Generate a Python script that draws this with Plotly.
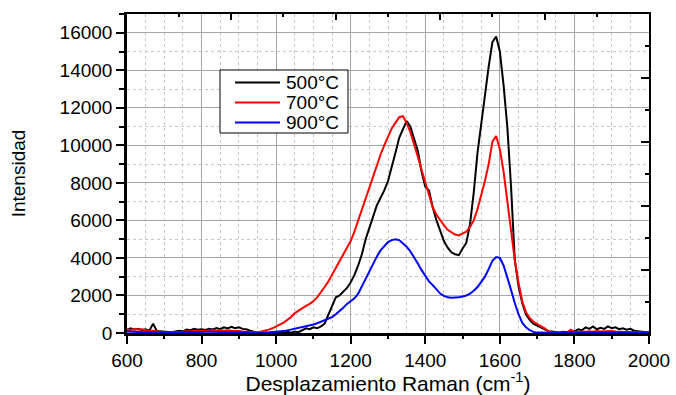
import plotly.graph_objects as go

# Raman shift grid (cm-1), step 10 from 600 to 2000
wavenumber = list(range(600, 2001, 10))

int_500 = [150, 250, 180, 220, 150, 200, 120, 500, 100, 80,
           50, 60, 40, 80, 120, 90, 180, 150, 220, 170,
           200, 160, 230, 190, 260, 200, 300, 240, 330, 260,
           300, 220, 200, 120, 60, 20, 0, 20, 0, 30,
           0, 40, 0, 60, 20, 80, 40, 150, 250, 200,
           300, 250, 350, 500, 1000, 1500, 1900, 2000, 2200, 2400,
           2700, 3100, 3600, 4200, 5000, 5600, 6200, 6800, 7200, 7600,
           8100, 8800, 9600, 10400, 10900, 11300, 11000, 10300, 9700, 8600,
           7800, 7600, 6700, 6000, 5500, 4900, 4550, 4300, 4200, 4150,
           4500, 4800, 5800, 7500, 9600, 11200, 12800, 14200, 15500, 15800,
           15000, 13200, 11000, 7800, 3900, 2500, 1600, 1000, 700, 500,
           400, 300, 200, 100, 80, 50, 20, 60, 40, 100,
           80, 200, 150, 300, 220, 350, 200, 280, 220, 350,
           250, 300, 200, 250, 180, 220, 120, 100, 60, 40,
           20]

int_700 = [200, 150, 220, 180, 200, 150, 100, 120, 80, 60,
           30, 20, 20, 30, 50, 60, 80, 100, 90, 120,
           100, 130, 110, 140, 120, 150, 120, 140, 120, 130,
           100, 80, 60, 40, 20, 40, 80, 120, 180, 250,
           340, 420, 550, 700, 850, 1060, 1200, 1350, 1450, 1550,
           1700, 1900, 2150, 2450, 2750, 3100, 3500, 3800, 4150, 4500,
           4900, 5400, 6000, 6600, 7200, 7800, 8400, 9000, 9500, 10000,
           10500, 10900, 11200, 11500, 11550, 11200, 10700, 10100, 9400, 8700,
           8000, 7300, 6700, 6300, 6000, 5750, 5500, 5350, 5250, 5200,
           5300, 5400, 5650, 6000, 6600, 7300, 8100, 9000, 10200, 10500,
           9800, 8600, 7000, 5300, 3900, 2700, 1700, 1100, 800, 600,
           480, 400, 250, 100, 30, 20, 30, 40, 30, 180,
           60, 50, 80, 60, 90, 70, 100, 80, 90, 70,
           100, 80, 60, 80, 60, 40, 50, 30, 40, 30,
           60]

int_900 = [80, 60, 50, 60, 40, 50, 40, 30, 30, 20,
           20, 10, 10, 20, 20, 30, 40, 40, 50, 50,
           60, 60, 70, 60, 70, 70, 60, 60, 50, 40,
           40, 30, 20, 10, 10, 0, 0, 10, 20, 30,
           50, 70, 100, 140, 180, 230, 280, 330, 380, 420,
           450, 520, 600, 680, 750, 850, 1000, 1150, 1350, 1550,
           1700, 1850, 2100, 2500, 2950, 3350, 3750, 4070, 4400, 4650,
           4850, 4950, 5000, 4950, 4800, 4600, 4350, 4050, 3700, 3350,
           3050, 2750, 2550, 2300, 2100, 1980, 1900, 1880, 1880, 1900,
           1950, 2000, 2100, 2250, 2450, 2700, 3000, 3400, 3850, 4050,
           4000, 3600, 3000, 2300, 1600, 1000, 550, 300, 150, 60,
           20, 10, 0, 10, 10, 20, 20, 30, 20, 30,
           30, 20, 30, 40, 30, 30, 40, 30, 30, 40,
           30, 30, 40, 30, 30, 20, 30, 30, 20, 30,
           30]

series_names = ["500°C", "700°C", "900°C"]
series_colors = ["#000000", "#ff0000", "#0000ff"]
series_values = [int_500, int_700, int_900]

x_range = [600, 2000]
y_range = [0, 17000]

# secondary (top / right) tick positions as drawn on the frame
top_long = [879, 1160, 1440, 1721]
top_short = [739, 1019, 1300, 1580, 1861]
right_long = [3360, 6773, 10187, 13600]
right_short = [1653, 5067, 8480, 11893, 15307]

FONT = "Liberation Sans, Arial, sans-serif"
W, H = 676, 395
ML, MR, MT, MB = 127, 27, 14, 62
PW, PH = W - ML - MR, H - MT - MB


def px_to_paper(px, py):
    return (px - ML) / PW, (H - MB - py) / PH


fig = go.Figure()
for name, color, vals in zip(series_names, series_colors, series_values):
    fig.add_trace(go.Scatter(x=wavenumber, y=vals, mode="lines", name=name,
                             showlegend=False,
                             line=dict(color=color, width=2)))

# framed legend box like the original
shapes = []
annotations = []
bx0, by0 = px_to_paper(220, 133)
bx1, by1 = px_to_paper(348, 70)
shapes.append(dict(type="rect", xref="paper", yref="paper", x0=bx0, y0=by0,
                   x1=bx1, y1=by1, line=dict(color="black", width=1),
                   fillcolor="white", layer="above"))
row_y = [82.5, 102.5, 122.5]
for name, color, ry in zip(series_names, series_colors, row_y):
    lx0, ly = px_to_paper(235, ry)
    lx1, _ = px_to_paper(280, ry)
    shapes.append(dict(type="line", xref="paper", yref="paper", x0=lx0, x1=lx1,
                       y0=ly, y1=ly, line=dict(color=color, width=2), layer="above"))
    tx, _ = px_to_paper(284, ry)
    annotations.append(dict(xref="paper", yref="paper", x=tx, y=ly, text=name,
                            showarrow=False, xanchor="left", yanchor="middle",
                            font=dict(size=19, family=FONT, color="black")))

fig.update_layout(
    width=W, height=H,
    margin=dict(l=ML, r=MR, t=MT, b=MB),
    paper_bgcolor="white", plot_bgcolor="white",
    font=dict(family=FONT, color="black", size=19),
    showlegend=False,
    shapes=shapes, annotations=annotations,
    xaxis=dict(range=x_range, autorange=False, dtick=200, tick0=600,
               automargin=False,
               showgrid=True, gridcolor="#a6a6a6", gridwidth=1,
               showline=True, linecolor="black", linewidth=2.5,
               ticks="outside", ticklen=8, tickwidth=1.5, tickcolor="black",
               tickfont=dict(size=19),
               minor=dict(dtick=50, tick0=600, showgrid=True, gridcolor="#c8c8c8",
                          griddash="dot", gridwidth=1, ticks=""),
               zeroline=False,
               title=dict(text="Desplazamiento Raman (cm<sup>-1</sup>)",
                          font=dict(size=21), standoff=11)),
    yaxis=dict(range=y_range, autorange=False, dtick=2000, tick0=0,
               automargin=False, tickformat="d",
               showgrid=True, gridcolor="#a6a6a6", gridwidth=1,
               showline=True, linecolor="black", linewidth=2.5,
               ticks="outside", ticklen=8, tickwidth=1.5, tickcolor="black",
               tickfont=dict(size=19),
               minor=dict(dtick=1000, tick0=0, showgrid=True, gridcolor="#c8c8c8",
                          griddash="dot", gridwidth=1, ticks="outside", ticklen=5,
                          tickcolor="black", tickwidth=1.5),
               zeroline=False,
               title=dict(text="Intensidad", font=dict(size=19), standoff=29)),
    xaxis3=dict(overlaying="x", side="bottom", range=x_range, autorange=False,
                automargin=False,
                tickmode="linear", tick0=600, dtick=100, ticks="outside", ticklen=5,
                tickwidth=1.5, tickcolor="black", showticklabels=False,
                showgrid=False, showline=False, zeroline=False),
    xaxis2=dict(overlaying="x", side="top", range=x_range, autorange=False,
                automargin=False,
                tickmode="array", tickvals=top_long, ticks="inside", ticklen=6,
                tickwidth=1.5, tickcolor="black", showticklabels=False,
                showgrid=False, showline=True, linecolor="black", linewidth=1.5,
                zeroline=False,
                minor=dict(tickvals=top_short, ticks="inside", ticklen=3,
                           tickwidth=1.5, tickcolor="black", showgrid=False)),
    yaxis2=dict(overlaying="y", side="right", range=y_range, autorange=False,
                automargin=False,
                tickmode="array", tickvals=right_long, ticks="inside", ticklen=8,
                tickwidth=1.5, tickcolor="black", showticklabels=False,
                showgrid=False, showline=True, linecolor="black", linewidth=2,
                zeroline=False,
                minor=dict(tickvals=right_short, ticks="inside", ticklen=4,
                           tickwidth=1.5, tickcolor="black", showgrid=False)),
)

# anchor invisible helpers so the secondary axes are drawn
fig.add_trace(go.Scatter(x=[None], y=[None], xaxis="x2", yaxis="y2",
                         showlegend=False, hoverinfo="skip"))
fig.add_trace(go.Scatter(x=[None], y=[None], xaxis="x3", yaxis="y",
                         showlegend=False, hoverinfo="skip"))

fig.write_html("out.html")
